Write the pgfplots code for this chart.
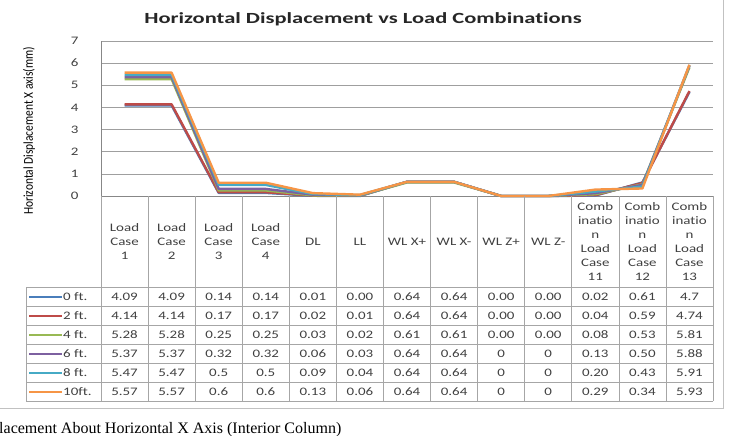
\documentclass[border=0pt]{standalone}
\usepackage{pgfplots}
\pgfplotsset{compat=1.18}
\usepackage{fontspec}
\setmainfont{Carlito}[FakeStretch=1.3, Ligatures=NoCommon]
\newfontfamily\titfont{Carlito}[FakeStretch=1.45, Ligatures=NoCommon]
\newfontfamily\labfont{Carlito}[FakeStretch=0.85, Ligatures=NoCommon]
\newfontfamily\capfont{Liberation Serif}
\definecolor{s1}{HTML}{4A7EBB}
\definecolor{s2}{HTML}{BE4B48}
\definecolor{s3}{HTML}{98B954}
\definecolor{s4}{HTML}{7D60A0}
\definecolor{s5}{HTML}{46AAC5}
\definecolor{s6}{HTML}{F69546}
\definecolor{gridc}{HTML}{878787}
\definecolor{tabc}{HTML}{A6A6A6}
\definecolor{txt}{HTML}{404040}
\begin{document}
\begin{tikzpicture}
\path[use as bounding box] (0,0) rectangle (729bp,-436bp);
\draw[tabc!70, line width=0.8bp] (-5bp,5bp) -- (723bp,5bp) -- (723bp,-408bp) -- (-5bp,-408bp);
\node[font=\titfont\bfseries\fontsize{15.5bp}{18bp}\selectfont, text=black!85] at (363bp,-19bp) {Horizontal Displacement vs Load Combinations};
\node[rotate=90, font=\labfont\fontsize{13.5bp}{15bp}\selectfont] at (29bp,-131bp) {Horizontal Displacement X axis(mm)};
\begin{axis}[
  at={(101bp,-196bp)}, anchor=south west,
  width=612bp, height=155bp, scale only axis,
  xmin=0, xmax=13, ymin=0, ymax=7,
  ytick={0,1,...,7}, xtick=\empty,
  ymajorgrids, grid style={gridc!80, line width=0.6bp},
  axis x line*=bottom, axis y line*=left,
  axis line style={gridc, line width=0.6bp, -},
  major tick length=0pt,
  yticklabel style={font=\fontsize{11.5bp}{13bp}\selectfont, text=txt, xshift=-19bp},
  /pgf/number format/assume math mode=true,
  every axis plot/.append style={line width=2.4bp, line join=round, no marks},
  clip=false,
]
\addplot[s1] coordinates {(0.5,4.09)(1.5,4.09)(2.5,0.14)(3.5,0.14)(4.5,0.01)(5.5,0.00)(6.5,0.64)(7.5,0.64)(8.5,0.00)(9.5,0.00)(10.5,0.02)(11.5,0.61)(12.5,4.7)};
\addplot[s2] coordinates {(0.5,4.14)(1.5,4.14)(2.5,0.17)(3.5,0.17)(4.5,0.02)(5.5,0.01)(6.5,0.64)(7.5,0.64)(8.5,0.00)(9.5,0.00)(10.5,0.04)(11.5,0.59)(12.5,4.74)};
\addplot[s3] coordinates {(0.5,5.28)(1.5,5.28)(2.5,0.25)(3.5,0.25)(4.5,0.03)(5.5,0.02)(6.5,0.61)(7.5,0.61)(8.5,0.00)(9.5,0.00)(10.5,0.08)(11.5,0.53)(12.5,5.81)};
\addplot[s4] coordinates {(0.5,5.37)(1.5,5.37)(2.5,0.32)(3.5,0.32)(4.5,0.06)(5.5,0.03)(6.5,0.64)(7.5,0.64)(8.5,0)(9.5,0)(10.5,0.13)(11.5,0.50)(12.5,5.88)};
\addplot[s5] coordinates {(0.5,5.47)(1.5,5.47)(2.5,0.5)(3.5,0.5)(4.5,0.09)(5.5,0.04)(6.5,0.64)(7.5,0.64)(8.5,0)(9.5,0)(10.5,0.20)(11.5,0.43)(12.5,5.91)};
\addplot[s6] coordinates {(0.5,5.57)(1.5,5.57)(2.5,0.6)(3.5,0.6)(4.5,0.13)(5.5,0.06)(6.5,0.64)(7.5,0.64)(8.5,0)(9.5,0)(10.5,0.29)(11.5,0.34)(12.5,5.93)};
\end{axis}
% table grid
\foreach \k in {0,...,13} \draw[tabc, line width=0.7bp] ({101bp+47.077bp*\k},-196bp) -- ({101bp+47.077bp*\k},-401bp);
\foreach \r in {0,...,6} \draw[tabc, line width=0.7bp] (26bp,{-287bp-19bp*\r}) -- (713bp,{-287bp-19bp*\r});
\draw[tabc, line width=0.7bp] (26bp,-287bp) -- (26bp,-401bp);
% header
\foreach \t [count=\i from 0] in {{Load\\Case\\1},{Load\\Case\\2},{Load\\Case\\3},{Load\\Case\\4},DL,LL,WL X+,WL X-,WL Z+,WL Z-,{Comb\\inatio\\n\\Load\\Case\\11},{Comb\\inatio\\n\\Load\\Case\\12},{Comb\\inatio\\n\\Load\\Case\\13}}
  \node[align=center, text=txt, font=\fontsize{11.5bp}{14bp}\selectfont, inner sep=0] at ({101bp+47.077bp*(\i+0.5)},-242bp) {\t};
% values
\foreach \row [count=\r from 0] in {
 {4.09,4.09,0.14,0.14,0.01,0.00,0.64,0.64,0.00,0.00,0.02,0.61,4.7},
 {4.14,4.14,0.17,0.17,0.02,0.01,0.64,0.64,0.00,0.00,0.04,0.59,4.74},
 {5.28,5.28,0.25,0.25,0.03,0.02,0.61,0.61,0.00,0.00,0.08,0.53,5.81},
 {5.37,5.37,0.32,0.32,0.06,0.03,0.64,0.64,0,0,0.13,0.50,5.88},
 {5.47,5.47,0.5,0.5,0.09,0.04,0.64,0.64,0,0,0.20,0.43,5.91},
 {5.57,5.57,0.6,0.6,0.13,0.06,0.64,0.64,0,0,0.29,0.34,5.93}}
 {\foreach \v [count=\i from 0] in \row
   \node[text=txt, font=\fontsize{11.5bp}{14bp}\selectfont, inner sep=0] at ({101bp+47.077bp*(\i+0.5)},{-296.5bp-19bp*\r}) {\v};}
% legend keys
\foreach \c/\n [count=\r from 0] in {s1/0 ft.,s2/2 ft.,s3/4 ft.,s4/6 ft.,s5/8 ft.,s6/10ft.}
 {\draw[\c, line width=2bp] (29bp,{-296.5bp-19bp*\r}) -- (62bp,{-296.5bp-19bp*\r});
  \node[anchor=west, text=txt, font=\fontsize{11.5bp}{14bp}\selectfont, inner sep=0] at (63bp,{-296.5bp-19bp*\r}) {\n};}
\node[anchor=base west, inner sep=0, font=\capfont\fontsize{16bp}{18bp}\selectfont] at (-1bp,-433bp) {lacement About Horizontal X Axis (Interior Column)};
\end{tikzpicture}
\end{document}
